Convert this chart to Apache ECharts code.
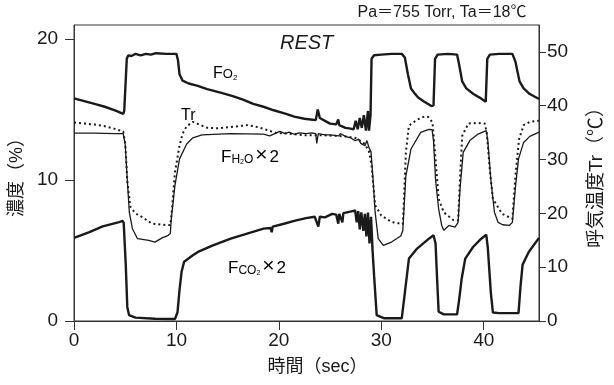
<!DOCTYPE html>
<html>
<head>
<meta charset="utf-8">
<script src="https://cdn.jsdelivr.net/npm/echarts@6/dist/echarts.min.js"></script>
<style>
  html, body { margin: 0; background: #fff; }
  #chart { width: 614px; height: 385px; }
</style>
</head>
<body>
<div id="chart"></div>
<script>
// ticks
const xTicks = [0, 10, 20, 30, 40]
const leftTicks = [0, 10, 20]
const rightTicks = [0, 10, 20, 30, 40, 50]

// [sec, %]  O2 fraction
const fO2 = [
  [0, 15.8], [1, 15.6], [2, 15.4], [3, 15.2], [4, 14.95], [4.8, 14.7], [4.9, 14.9],
  [5.15, 18.6], [5.3, 18.85], [5.6, 18.8], [6, 18.95], [6.5, 18.85], [7, 18.95], [7.5, 18.9],
  [8, 19.0], [9, 18.95], [10, 18.95], [10.15, 18.5], [10.3, 17.5], [10.6, 17.05], [11.2, 16.85],
  [12, 16.7], [13, 16.45], [14.3, 16.2], [15.5, 15.95], [16.5, 15.7], [17.5, 15.4], [18.5, 15.2],
  [19.5, 14.95], [20.7, 14.7], [21.5, 14.5], [22.5, 14.35], [23.1, 14.3], [23.6, 14.25],
  [23.8, 15.0], [24.0, 14.4], [24.5, 14.2], [25.0, 14.0], [25.6, 13.95], [25.8, 14.3], [25.9, 13.9],
  [26.5, 13.7], [27, 13.65], [27.3, 13.6], [27.5, 14.2], [27.7, 13.6], [27.9, 14.4], [28.1, 13.7],
  [28.3, 14.6], [28.5, 13.5], [28.7, 14.9], [28.8, 13.5], [28.95, 14.6], [29.05, 18.6],
  [29.3, 18.85], [30, 18.9], [31, 18.95], [32, 18.95], [32.3, 18.7], [32.6, 17.5], [32.9, 16.5],
  [33.2, 16.2], [33.6, 15.85], [34.2, 15.55], [34.9, 15.25], [35.1, 15.3], [35.25, 18.6],
  [35.5, 18.9], [36.5, 18.95], [37.4, 18.9], [37.6, 18.2], [37.9, 17.0], [38.3, 16.5],
  [39, 16.1], [39.6, 15.85], [40.2, 15.55], [40.35, 18.6], [40.6, 18.9], [41.5, 18.95],
  [42.8, 18.95], [43.1, 18.4], [43.5, 17.0], [43.9, 16.5], [44.5, 16.1], [45.4, 15.75]
]

// [sec, degC]  breath temperature
const tr = [
  [0, 36.9], [1, 36.7], [2, 36.5], [3, 36.2], [4, 35.7], [4.8, 35.2], [5.0, 33], [5.2, 26],
  [5.5, 21.2], [6, 20.0], [6.65, 19.3], [7.6, 18.1], [8.5, 17.9], [9.4, 17.8], [9.55, 20.5],
  [9.85, 27.6], [10.3, 32.6], [10.6, 34.8], [11.0, 36.2], [11.6, 37.0], [12.5, 36.3], [13, 35.9],
  [14, 35.8], [15, 36.0], [16, 36.2], [17, 36.4], [18, 36.0], [19, 35.4], [19.8, 34.9],
  [20.5, 34.9], [21.5, 34.7], [22.5, 34.5], [23.5, 34.5], [24.5, 34.5], [25.5, 34.4],
  [26.5, 34.3], [27.5, 34.0], [28.4, 32.9], [28.8, 31.5], [29.05, 28.9], [29.4, 21.5],
  [30.0, 19.6], [31.0, 18.4], [32.1, 18.0], [32.2, 22], [32.4, 31.3], [32.7, 36.3], [33.5, 37.4],
  [34.2, 38.0], [34.6, 37.9], [35.0, 36.9], [35.3, 30], [35.6, 22.7], [36.1, 20.2], [37.0, 18.8],
  [37.5, 18.7], [37.7, 27.0], [37.9, 34.4], [38.5, 36.7], [39.3, 36.8], [40.1, 36.7], [40.3, 35.0],
  [40.6, 28], [40.9, 22.7], [41.8, 19.9], [42.8, 19.0], [43.1, 27.0], [43.45, 33.8], [43.9, 36.4],
  [44.5, 37.0], [45.4, 37.2]
]

// [sec, %]  H2O fraction x2
const fH2O = [
  [0, 13.33], [2, 13.33], [4, 13.3], [4.8, 13.3], [5.0, 12.5], [5.2, 10], [5.4, 7.7],
  [5.7, 6.55], [6.2, 5.84], [7.3, 5.72], [7.9, 5.6], [8.6, 5.9], [9.2, 6.08], [9.4, 6.2],
  [9.5, 7.26], [9.85, 9.6], [10.3, 11.5], [11.0, 12.56], [11.6, 13.0], [12.5, 13.2], [15.3, 13.3],
  [18.5, 13.26], [19.1, 13.14], [19.6, 13.3], [20.1, 13.45], [20.6, 13.3], [21, 13.4],
  [21.5, 13.25], [22, 13.35], [22.65, 13.3], [23.2, 13.35], [23.6, 13.3], [23.7, 12.6],
  [23.85, 13.3], [24.5, 13.2], [25.0, 13.2], [25.85, 13.14], [26, 13.3], [26.5, 13.1],
  [27, 13.0], [27.45, 12.8], [27.8, 12.9], [28.0, 12.6], [28.4, 12.44], [28.6, 12.8],
  [28.8, 12.3], [29.0, 12.0], [29.2, 10], [29.4, 7.72], [29.7, 5.84], [30.2, 5.37], [31.0, 5.6],
  [31.9, 6.03], [32.1, 6.4], [32.4, 10.3], [32.9, 12.2], [33.85, 13.38], [34.65, 13.6],
  [34.96, 13.57], [35.1, 12.8], [35.3, 10], [35.6, 7.96], [35.9, 6.78], [36.1, 6.43],
  [36.6, 6.78], [37.2, 6.66], [37.5, 7.0], [37.7, 9.5], [38.0, 11.96], [38.65, 12.8],
  [39.45, 13.26], [40.25, 13.5], [40.4, 12.8], [40.7, 10], [41.05, 7.72], [41.4, 7.0],
  [41.85, 6.83], [42.5, 6.78], [42.8, 7.0], [43.1, 9.5], [43.4, 11.5], [43.9, 12.67],
  [44.5, 13.1], [45.4, 13.4]
]

// [sec, %]  CO2 fraction x2
const fCO2 = [
  [0, 5.89], [1.5, 6.31], [2.8, 6.71], [4.4, 7.02], [4.75, 7.1], [4.85, 6.95], [4.95, 7.05],
  [5.05, 4], [5.2, 1.0], [5.37, 0.42], [6.0, 0.24], [7.9, 0.16], [9.85, 0.14], [10.1, 0.6],
  [10.3, 2.2], [10.5, 3.49], [10.75, 4.2], [11.6, 4.66], [12.1, 4.9], [13.5, 5.35], [15.3, 5.84],
  [16.9, 6.2], [18.5, 6.55], [19.2, 6.6], [19.3, 6.3], [19.4, 6.7], [20.5, 6.9], [21.5, 7.1],
  [22.65, 7.3], [23.5, 7.4], [23.85, 6.7], [24.0, 7.4], [24.5, 7.35], [25.2, 7.6], [25.6, 7.55],
  [25.8, 6.9], [25.9, 7.6], [26.2, 7.0], [26.3, 7.65], [27.2, 7.8], [27.45, 7.84], [27.6, 7.0],
  [27.75, 7.8], [27.9, 6.5], [28.05, 7.7], [28.25, 6.4], [28.4, 7.6], [28.55, 6.0], [28.7, 7.7],
  [28.85, 5.5], [29.0, 7.4], [29.15, 5.0], [29.3, 3.2], [29.55, 0.42], [30.3, 0.19], [32.0, 0.19],
  [32.3, 2.0], [32.7, 4.43], [33.5, 5.14], [34.65, 5.84], [35.1, 6.08], [35.3, 5.5], [35.45, 3.0],
  [35.6, 0.66], [36.1, 0.47], [37.4, 0.47], [37.6, 1.5], [37.85, 3.0], [38.2, 4.43], [38.96, 5.25],
  [39.76, 5.84], [40.25, 6.12], [40.4, 5.2], [40.7, 2], [40.9, 0.6], [41.5, 0.56], [43.4, 0.56],
  [43.6, 2.5], [43.8, 4.0], [44.4, 4.9], [45.4, 5.9]
]

const ink = '#1a1a1a'
const latin = "'Liberation Sans', Arial, sans-serif"
const mixed = "'Liberation Sans', 'Noto Sans CJK JP', sans-serif"

const chart = echarts.init(document.getElementById('chart'))

const line = (name, data, width, yIdx, type) => ({
  name,
  type: 'line',
  data,
  yAxisIndex: yIdx,
  showSymbol: false,
  symbol: 'none',
  lineStyle: { color: ink, width, type: type || 'solid' },
  z: 3,
})

// rich text pieces that sit on one baseline (main font 17, line 20)
const tok = (size, pad) => ({
  fontSize: size,
  fontFamily: latin,
  color: ink,
  verticalAlign: 'bottom',
  lineHeight: 20 - 0.65 * (17 - size),
  padding: pad || 0,
})
// the cross is centred on the text, not on the baseline
const cross = { fontSize: 21, fontFamily: latin, color: ink, verticalAlign: 'bottom', lineHeight: 16, padding: [0, 2, 0, 2] }

const option = {
  animation: false,
  grid: {
    left: 74, right: 67, top: 25, bottom: 64,
    show: true, borderColor: '#333', borderWidth: 1,
  },
  xAxis: {
    type: 'value',
    min: 0,
    max: 45.4,
    name: '時間（sec）',
    nameLocation: 'middle',
    nameGap: 37,
    nameTextStyle: { fontSize: 18, fontFamily: mixed, color: ink, padding: [0, 0, 0, 22] },
    axisLine: { show: true, lineStyle: { color: '#333' } },
    axisTick: { show: true, length: 9, customValues: xTicks, lineStyle: { color: '#333' } },
    axisLabel: { customValues: xTicks, fontSize: 19, fontFamily: latin, color: ink, margin: 10 },
    splitLine: { show: false },
  },
  yAxis: [
    {
      type: 'value',
      min: 0,
      max: 21,
      name: '濃度（%）',
      nameLocation: 'middle',
      nameGap: 46,
      nameTextStyle: { fontSize: 18, fontFamily: mixed, color: ink },
      axisLine: { show: true, lineStyle: { color: '#333' } },
      axisTick: { show: true, length: 9, customValues: leftTicks, lineStyle: { color: '#333' } },
      axisLabel: { customValues: leftTicks, fontSize: 19, fontFamily: latin, color: ink, margin: 16 },
      splitLine: { show: false },
    },
    {
      type: 'value',
      min: 0,
      max: 55,
      position: 'right',
      name: '呼気温度Tr（℃）',
      nameLocation: 'middle',
      nameGap: 48,
      nameTextStyle: { fontSize: 19, fontFamily: mixed, color: ink },
      axisLine: { show: true, lineStyle: { color: '#333' } },
      axisTick: { show: true, length: 7, customValues: rightTicks, lineStyle: { color: '#333' } },
      axisLabel: { customValues: rightTicks, fontSize: 19, fontFamily: latin, color: ink, margin: 8 },
      splitLine: { show: false },
    },
  ],
  series: [
    line('FO2', fO2, 2.4, 0),
    line('Tr', tr, 2, 1, [2, 3]),
    line('FH2Ox2', fH2O, 1.3, 0),
    line('FCO2x2', fCO2, 2.4, 0),
  ],
  graphic: [
    {
      type: 'text', x: 442, y: 13,
      style: { text: 'Pa＝755 Torr, Ta＝18℃', font: "16px 'Liberation Sans', 'Noto Sans CJK JP'", fill: ink, align: 'center', verticalAlign: 'middle' },
    },
    {
      type: 'text', x: 280, y: 43,
      style: { text: 'REST', font: "italic 20px 'Liberation Sans'", fill: ink, align: 'left', verticalAlign: 'middle' },
    },
    {
      type: 'text', x: 213, y: 62,
      style: { text: '{a|F}{b|O}{c|2}', rich: { a: tok(16), b: tok(13), c: tok(8) } },
    },
    {
      type: 'text', x: 181, y: 104,
      style: { text: '{a|Tr}', rich: { a: tok(16) } },
    },
    {
      type: 'text', x: 221, y: 145.5,
      style: {
        text: '{a|F}{b|H}{c|2}{b|O}{x|×}{a|2}',
        rich: { a: tok(17), b: tok(12), c: tok(7), x: cross },
      },
    },
    {
      type: 'text', x: 228, y: 257,
      style: {
        text: '{a|F}{b|CO}{c|2}{x|×}{a|2}',
        rich: { a: tok(17), b: tok(12), c: tok(7), x: cross },
      },
    },
  ],
}

chart.setOption(option)
</script>
</body>
</html>
